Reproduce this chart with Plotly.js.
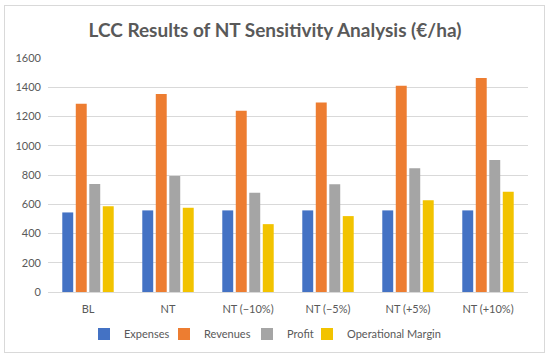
<!DOCTYPE html>
<html><head><meta charset="utf-8">
<script src="https://cdn.plot.ly/plotly-3.0.1.min.js"></script>
<style>html,body{margin:0;padding:0;background:#fff;}#wrap{position:relative;width:550px;height:359px;}#frame{position:absolute;left:4px;top:5px;width:539px;height:346px;border:1px solid #d9d9d9;pointer-events:none;}</style>
</head><body><div id="wrap"><div id="chart" style="width:550px;height:359px;"></div><div id="frame"></div></div>
<script>
const categories = ["BL", "NT", "NT (\u221210%)", "NT (\u22125%)", "NT (+5%)", "NT (+10%)"];
const expenses = [544, 558, 558, 558, 558, 558];
const revenues = [1287, 1353, 1239, 1296, 1410, 1463];
const profit = [738, 793, 679, 736, 846, 903];
const operationalMargin = [587, 576, 464, 519, 628, 686];

const legendIds = ['legend', 'legend2', 'legend3', 'legend4'];
const mk = (name, y, color, i) => ({type:'bar', name, x:categories, y, marker:{color}, hoverinfo:'y', legend: legendIds[i]});
const data = [
  mk('Expenses', expenses, '#4472C4', 0),
  mk('Revenues', revenues, '#ED7D31', 1),
  mk('Profit', profit, '#A5A5A5', 2),
  mk('Operational Margin', operationalMargin, '#F2C300', 3)
];
const fam = 'Lato, "Open Sans", sans-serif';
const font = {family:fam, color:'#595959', size:11};
const legendLeft = [84, 164, 247, 307];
const mkLegend = (left) => ({orientation:'h', xref:'container', yref:'container', x:left/550, xanchor:'left', y:1-334/359, yanchor:'middle', font:{size:11, color:'#595959', family:fam}, bgcolor:'rgba(0,0,0,0)'});
const layout = {
  width:550, height:359,
  margin:{l:48, r:22, t:58, b:67, autoexpand:false},
  paper_bgcolor:'#fff', plot_bgcolor:'#fff',
  font,
  title:{text:'<b>LCC Results of NT Sensitivity Analysis (€/ha)</b>', x:0.5, xanchor:'center', y:0.915, yanchor:'middle', font:{family:fam, size:19, color:'#595959'}},
  barmode:'group', bargap:0.325, bargroupgap:0.19,
  xaxis:{type:'category', showgrid:false, showline:false, ticks:'', tickfont:{size:11, color:'#595959'}, ticklabelstandoff:9},
  yaxis:{range:[0,1600], dtick:200, gridcolor:'#d9d9d9', gridwidth:1, zeroline:true, zerolinecolor:'#d9d9d9', ticks:'', tickfont:{size:11, color:'#595959'}, ticklabelstandoff:6},
  legend: mkLegend(legendLeft[0]),
  legend2: mkLegend(legendLeft[1]),
  legend3: mkLegend(legendLeft[2]),
  legend4: mkLegend(legendLeft[3]),
  showlegend:true
};
Plotly.newPlot('chart', data, layout, {displayModeBar:false, staticPlot:true});
</script></body></html>
